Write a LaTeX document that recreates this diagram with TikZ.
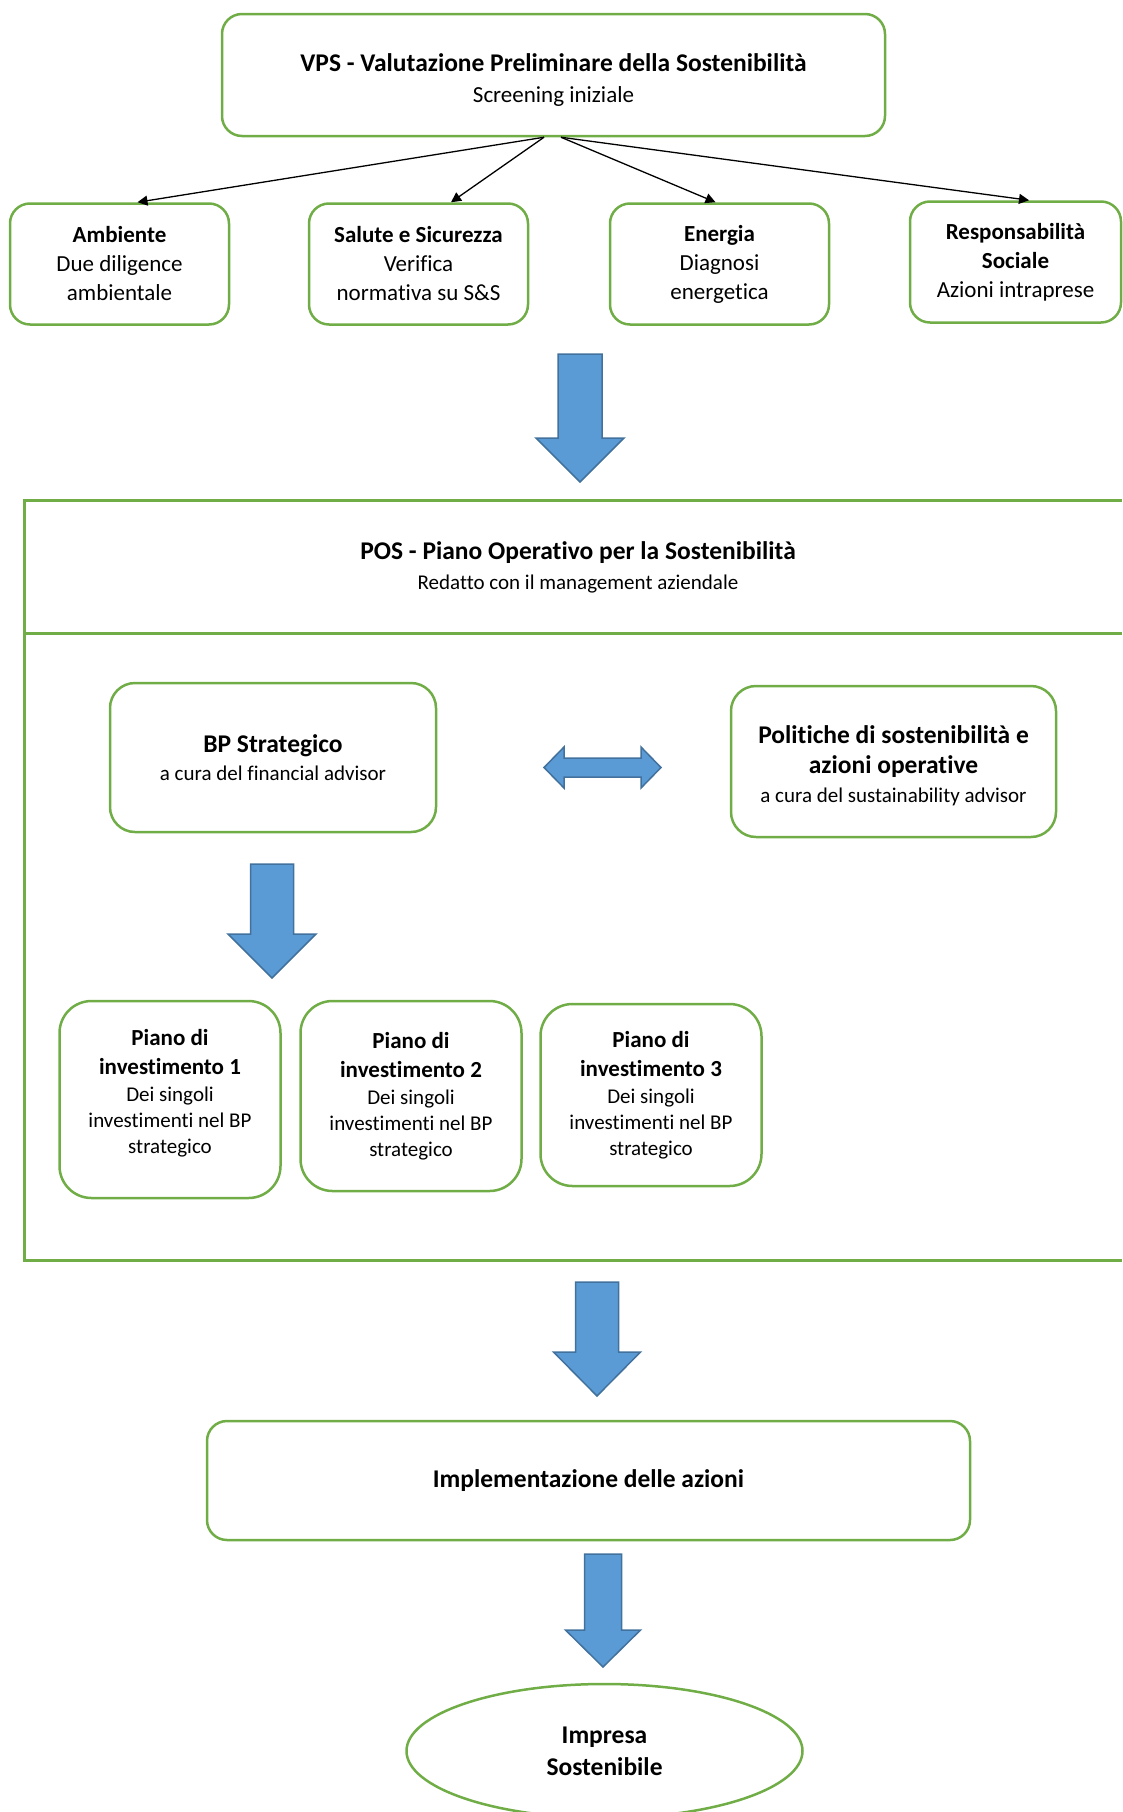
\documentclass[tikz,border=0pt]{standalone}
\usepackage{fontspec}
\setmainfont{Carlito}[Ligatures=NoCommon]
\usetikzlibrary{arrows.meta, positioning, shapes.geometric}
\definecolor{boxgreen}{HTML}{70AD47}
\definecolor{arrowblue}{HTML}{5B9BD5}
\definecolor{arrowedge}{HTML}{41719C}
\newcommand{\titlefont}{\fontsize{25.5}{31}\selectfont\bfseries}
\newcommand{\subfont}{\fontsize{21}{26}\selectfont}
% block arrow pointing down: x, top, head base, tip, shaft half, head half
\newcommand{\blockdown}[6]{%
  \draw[blockarrow] (#1-#5,#2) -- (#1+#5,#2) -- (#1+#5,#3) -- (#1+#6,#3)
    -- (#1,#4) -- (#1-#6,#3) -- (#1-#5,#3) -- cycle;}
\tikzset{
  mainbox/.style    = {rectangle, rounded corners=20pt, draw=boxgreen, line width=2.5pt,
                       align=center, font=\fontsize{23}{29}\selectfont},
  areabox/.style    = {mainbox, minimum width=219pt, minimum height=121pt},
  planbox/.style    = {mainbox, rounded corners=32pt, minimum width=221pt},
  endnode/.style    = {ellipse, draw=boxgreen, line width=2.5pt, minimum width=396pt,
                       minimum height=134pt, align=center},
  panel/.style      = {draw=boxgreen, line width=3pt},
  link/.style       = {-{Triangle[length=10pt, width=10pt]}, line width=1.3pt},
  blockarrow/.style = {fill=arrowblue, draw=arrowedge, line width=1.5pt, line join=miter}
}
\begin{document}
\begin{tikzpicture}[x=1pt, y=-1pt]
  \useasboundingbox (0,0) rectangle (1122,1812);

  % screening
  \node[mainbox, minimum width=663pt, minimum height=122pt] (vps) at (553.5,75)
    {\rule{0pt}{27pt}{\titlefont VPS - Valutazione Preliminare della Sostenibilità}\\[2pt]
     Screening iniziale};
  \node[areabox] (amb) at (119.5,264)
    {\textbf{Ambiente}\\Due diligence\\ambientale};
  \node[areabox] (sal) [right=77.5pt of amb]
    {\textbf{Salute e Sicurezza}\\Verifica\\normativa su S\&S};
  \node[areabox] (ene) [right=79.5pt of sal]
    {\textbf{Energia}\\Diagnosi\\energetica};
  \node[areabox, minimum width=211pt] (resp) [right=78.5pt of ene, yshift=2pt]
    {\textbf{Responsabilità}\\\textbf{Sociale}\\Azioni intraprese};

  \draw[link] ([xshift=-9.5pt]vps.south) -- ([xshift=18pt]amb.north);
  \draw[link] ([xshift=-9.5pt]vps.south) -- ([xshift=32.5pt]sal.north);
  \draw[link] ([xshift=7.5pt]vps.south) -- ([xshift=-4pt]ene.north);
  \draw[link] ([xshift=7.5pt]vps.south) -- ([xshift=13.5pt]resp.north);

  \blockdown{580}{354}{438}{482}{22}{44}

  % operative plan
  \draw[panel] (1122,500) -- (24,500) -- (24,1260) -- (1122,1260);
  \draw[panel] (24,633) -- (1122,633);
  \node[align=center, font=\fontsize{23}{29}\selectfont] (pos) at (578,567)
    {{\titlefont POS - Piano Operativo per la Sostenibilità}\\[1pt]
     {\subfont Redatto con il management aziendale}};

  \node[mainbox, rounded corners=25pt, minimum width=326pt, minimum height=149pt] (bp)
    at (273,757.5)
    {{\titlefont BP Strategico}\\[-1pt]{\subfont a cura del financial advisor}};
  \node[mainbox, rounded corners=25pt, minimum width=325pt, minimum height=151pt] (pol)
    at (893.5,761.5)
    {\rule{0pt}{27pt}{\titlefont Politiche di sostenibilità e}\\[1pt]{\titlefont azioni operative}\\
     {\subfont a cura del sustainability advisor}};

  \draw[blockarrow] (544,767.5) -- (564,747) -- (564,758) -- (641,758) -- (641,747)
    -- (661,767.5) -- (641,788) -- (641,777) -- (564,777) -- (564,788) -- cycle;

  \blockdown{272}{864}{934}{978}{21.5}{44}

  \node[planbox, minimum height=197pt] (inv1) at (170,1099.5)
    {\textbf{Piano di}\\\textbf{investimento 1}\\[-2pt]{\subfont Dei singoli}\\[-3pt]
     {\subfont investimenti nel BP}\\[-3pt]{\subfont strategico}\\[-12pt]\mbox{}};
  \node[planbox, minimum height=190pt] (inv2) [right=17.5pt of inv1.north east, anchor=north west]
    {\textbf{Piano di}\\\textbf{investimento 2}\\[-2pt]{\subfont Dei singoli}\\[-3pt]
     {\subfont investimenti nel BP}\\[-3pt]{\subfont strategico}};
  \node[planbox, minimum height=182pt] (inv3) [right=16.5pt of inv2.north east, anchor=north west, yshift=-3pt]
    {\textbf{Piano di}\\\textbf{investimento 3}\\[-2pt]{\subfont Dei singoli}\\[-3pt]
     {\subfont investimenti nel BP}\\[-3pt]{\subfont strategico}};

  % implementation
  \blockdown{597}{1282}{1352}{1396}{21.5}{43.5}
  \node[mainbox, minimum width=763pt, minimum height=119pt] (impl) at (588.5,1480.5)
    {{\titlefont Implementazione delle azioni}};
  \blockdown{603}{1554}{1630}{1667}{18.5}{37.5}
  \node[endnode, font=\titlefont] (impresa) at (604.5,1751)
    {Impresa\\[1pt]Sostenibile};
\end{tikzpicture}
\end{document}
